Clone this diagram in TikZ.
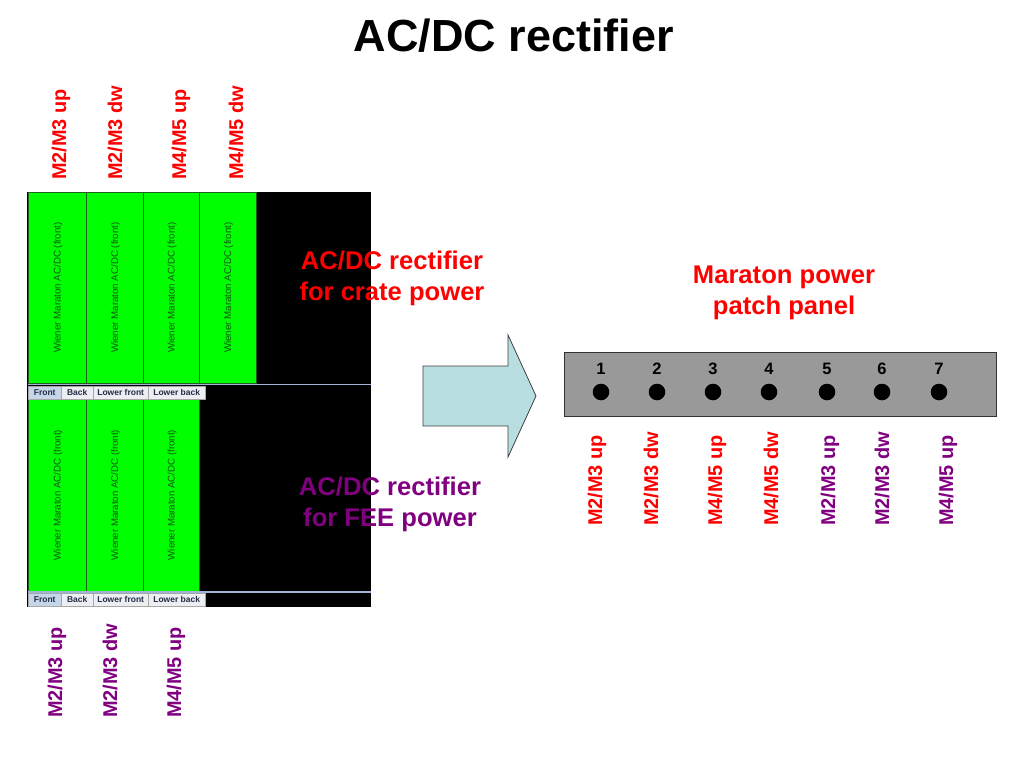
\documentclass[tikz,border=0pt]{standalone}
\usepackage{fontspec}
\setmainfont{Liberation Sans}
\definecolor{labred}{RGB}{255,0,0}
\definecolor{labpurple}{RGB}{128,0,128}
\definecolor{slotgreen}{RGB}{0,255,0}
\definecolor{slotline}{RGB}{30,95,30}
\definecolor{slottext}{RGB}{15,85,15}
\definecolor{arrowfill}{RGB}{185,222,226}
\definecolor{panelgray}{RGB}{153,153,153}
\definecolor{tabfill}{RGB}{236,238,242}
\definecolor{tabsel}{RGB}{198,214,234}
\definecolor{tabline}{RGB}{160,180,215}
\definecolor{tabtext}{RGB}{35,45,70}

\begin{document}
\begin{tikzpicture}[x=1pt,y=1pt]
\tikzstyle{every node}+=[inner sep=0pt]
\tikzstyle{lbl}=[rotate=90, anchor=base west, font=\fontsize{19.9}{24}\selectfont\bfseries]
\tikzstyle{slottxt}=[rotate=90, text=slottext, font=\fontsize{9.7}{12}\selectfont]
\tikzstyle{tabbox}=[draw=gray!70, fill=tabfill, anchor=north west, minimum height=13, text=tabtext, font=\fontsize{8.5}{10}\selectfont\bfseries]
\tikzstyle{crate}=[align=center, font=\fontsize{25.6}{31}\selectfont\bfseries]
\tikzstyle{dot}=[circle, fill=black, minimum size=16.6]
\tikzstyle{num}=[anchor=base, font=\fontsize{16.5}{19}\selectfont\bfseries]
\useasboundingbox (0,0) rectangle (1024,-768);
\fill [white] (0,0) rectangle (1024,-768);
% title
\node [anchor=base, font=\fontsize{45}{50}\selectfont\bfseries] (title) at (514,-52) {AC/DC rectifier};
% crate screenshot
\fill [black] (27,-192) rectangle (371,-607);
\foreach \xa/\xb [count=\i] in {28/86,86/143,143/199,199/256} {
  \draw [slotline, fill=slotgreen] (\xa,-192) rectangle (\xb,-383);
  \node [slottxt] (up\i) at ({(\xa+\xb)/2+1},-287.5) {Wiener Maraton AC/DC (front)};
}
\foreach \xa/\xb [count=\i] in {28/86,86/143,143/199} {
  \draw [slotline, fill=slotgreen] (\xa,-399) rectangle (\xb,-591);
  \node [slottxt] (lo\i) at ({(\xa+\xb)/2+1},-495) {Wiener Maraton AC/DC (front)};
}
\foreach \y/\s in {384.5/upper,592/lower} {
  \draw [tabline, line width=1.5] (28,-\y) -- (371,-\y);
  \node [tabbox, fill=tabsel, minimum width=33] (\s front) at (28,-\y-1) {Front};
  \node [tabbox, minimum width=32] (\s back) at (61,-\y-1) {Back};
  \node [tabbox, minimum width=55] (\s lfront) at (93,-\y-1) {Lower front};
  \node [tabbox, minimum width=57] (\s lback) at (148,-\y-1) {Lower back};
}
% top and bottom labels
\foreach \x/\t [count=\i] in {66/{M2/M3 up},122/{M2/M3 dw},186/{M4/M5 up},243/{M4/M5 dw}}
  \node [lbl, text=labred] (top\i) at (\x,-180) {\t};
\foreach \x/\t [count=\i] in {62/{M2/M3 up},117/{M2/M3 dw},181/{M4/M5 up}}
  \node [lbl, text=labpurple] (bot\i) at (\x,-718) {\t};
\node [crate, text=labred] (cratepow) at (392,-278) {AC/DC rectifier\\for crate power};
\node [crate, text=labpurple] (feepow) at (390,-504) {AC/DC rectifier\\for FEE power};
% arrow
\draw [draw=black!75, line width=0.8, fill=arrowfill] (423,-366) -- (508,-366) -- (508,-335) -- (536,-396)
  -- (508,-457) -- (508,-426) -- (423,-426) -- cycle;
% patch panel
\node [crate, text=labred] (paneltitle) at (784,-293) {Maraton power\\patch panel};
\node [draw=black!80, fill=panelgray, anchor=north west, minimum width=432, minimum height=64] (panel) at (564,-352) {};
\foreach \x [count=\i] in {601,657,713,769,827,882,939} {
  \node [num] (n\i) at (\x,-374) {\i};
  \node [dot] (d\i) at (\x,-392) {};
}
\foreach \x/\t [count=\i] in {602/{M2/M3 up},658/{M2/M3 dw},722/{M4/M5 up},778/{M4/M5 dw}}
  \node [lbl, text=labred] (pr\i) at (\x,-526) {\t};
\foreach \x/\t [count=\i] in {835/{M2/M3 up},889/{M2/M3 dw},953/{M4/M5 up}}
  \node [lbl, text=labpurple] (pp\i) at (\x,-526) {\t};
\end{tikzpicture}
\end{document}
